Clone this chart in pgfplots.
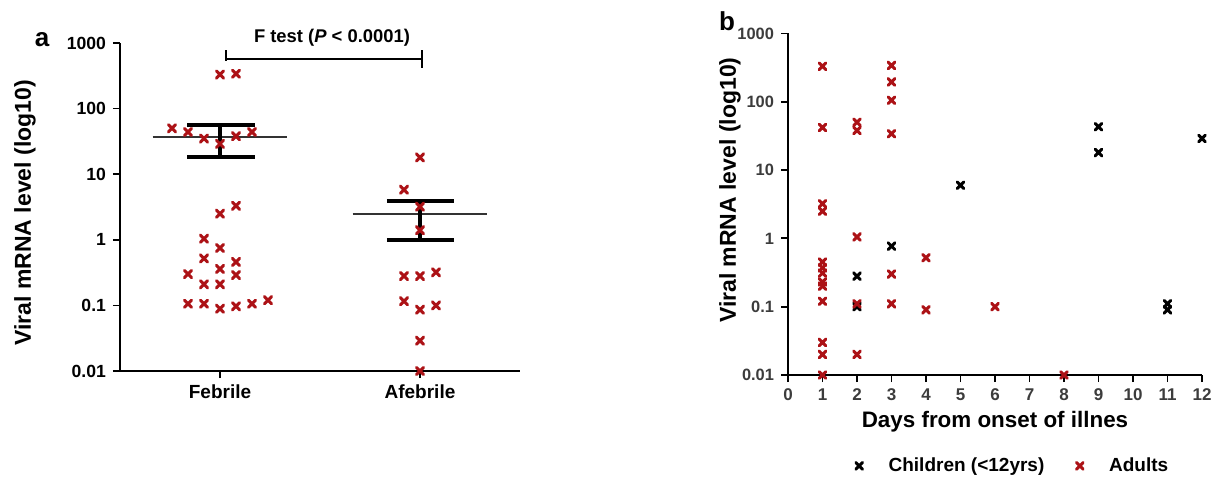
\documentclass[border=0pt]{standalone}
\usepackage{fontspec}
\setmainfont{Liberation Sans}
\usepackage{pgfplots}
\pgfplotsset{compat=1.18}
\definecolor{adultred}{RGB}{172,18,22}
\definecolor{tickgray}{RGB}{60,60,60}

\begin{document}
\begin{tikzpicture}
\useasboundingbox (0,0) rectangle (608.5pt,239.5pt);

\pgfplotsset{
  xmark/.style={only marks, mark=x, mark size=2.6pt,
    mark options={line width=1.5pt, line cap=round}},
}

%% panel a
\begin{axis}[
  at={(60pt,54pt)}, anchor=south west,
  scale only axis, width=200pt, height=164pt,
  ymode=log, ymin=0.01, ymax=1000,
  xmin=0.5, xmax=2.5,
  axis x line*=bottom, axis y line*=left,
  axis line style={line width=1pt},
  xtick={1,2}, xticklabels={Febrile,Afebrile},
  ytick={0.01,0.1,1,10,100,1000},
  yticklabels={0.01,0.1,1,10,100,1000},
  yminorticks=false,
  tick align=outside, major tick length=3.5pt,
  tick style={line width=0.8pt, black},
  yticklabel style={font=\bfseries\fontsize{8.8}{10}\selectfont},
  xticklabel style={font=\bfseries\fontsize{9.5}{11}\selectfont},
  ylabel={Viral mRNA level (log10)},
  ylabel style={at={(axis description cs:-0.2375,0.482)}, anchor=center,
    font=\bfseries\fontsize{11.5}{13}\selectfont},
  clip=false,
]
  % Febrile
  \addplot[xmark, adultred] coordinates {
    (1.00,330) (1.08,340)
    (0.76,50) (0.84,44) (0.92,35) (1.00,29) (1.08,38) (1.16,44)
    (1.00,2.5) (1.08,3.3)
    (0.92,1.04) (1.00,0.75) (0.92,0.52) (1.00,0.36) (1.08,0.46)
    (0.84,0.30) (1.08,0.29) (0.92,0.21) (1.00,0.21)
    (0.84,0.106) (0.92,0.106) (1.00,0.089) (1.08,0.097) (1.16,0.106) (1.24,0.12)
  };
  % Afebrile
  \addplot[xmark, adultred] coordinates {
    (2.00,18) (1.92,5.8) (2.00,3.2) (2.00,1.4)
    (1.92,0.28) (2.00,0.28) (2.08,0.32)
    (1.92,0.116) (2.00,0.086) (2.08,0.1)
    (2.00,0.029) (2.00,0.01)
  };
  % means
  \addplot[black!80, line width=0.8pt] coordinates {(0.663,37) (1.337,37)};
  \addplot[black!80, line width=0.8pt] coordinates {(1.663,2.5) (2.337,2.5)};
  % error bars
  \addplot[black, line width=2pt] coordinates {(0.835,57) (1.176,57)};
  \addplot[black, line width=2pt] coordinates {(0.835,18.4) (1.176,18.4)};
  \addplot[black, line width=2pt] coordinates {(1,18.4) (1,57)};
  \addplot[black, line width=2pt] coordinates {(1.834,3.9) (2.17,3.9)};
  \addplot[black, line width=2pt] coordinates {(1.834,0.98) (2.17,0.98)};
  \addplot[black, line width=2pt] coordinates {(2,0.98) (2,3.9)};
  % F test bracket
  \draw[line width=0.9pt] (axis cs:1.03,782) -- (axis cs:1.03,540);
  \draw[line width=0.9pt] (axis cs:1.03,564) -- (axis cs:2.01,564);
  \draw[line width=0.9pt] (axis cs:2.01,782) -- (axis cs:2.01,415);
  \node[font=\bfseries\fontsize{9.2}{11}\selectfont, anchor=center]
    at (axis cs:1.56,1200) {F test (\textit{P} < 0.0001)};
\end{axis}

%% panel b
\begin{axis}[
  at={(394pt,52pt)}, anchor=south west,
  scale only axis, width=207pt, height=170.8pt,
  ymode=log, ymin=0.01, ymax=1000,
  xmin=0, xmax=12,
  axis x line*=bottom, axis y line*=left,
  axis line style={line width=1.2pt},
  xtick={0,1,...,12},
  ytick={0.01,0.1,1,10,100,1000},
  yticklabels={0.01,0.1,1,10,100,1000},
  yminorticks=false,
  tick align=outside, major tick length=3.5pt,
  tick style={line width=0.9pt, black},
  /pgf/number format/assume math mode=true,
  yticklabel style={font=\bfseries\fontsize{8.2}{9}\selectfont, text=tickgray},
  xticklabel style={font=\bfseries\fontsize{8.5}{9}\selectfont, text=tickgray},
  xlabel={Days from onset of illnes},
  xlabel style={at={(axis description cs:0.5,-0.1375)}, anchor=center,
    font=\bfseries\fontsize{11.2}{13}\selectfont},
  ylabel={Viral mRNA level (log10)},
  ylabel style={at={(axis description cs:-0.14,0.541)}, anchor=center,
    font=\bfseries\fontsize{11.5}{13}\selectfont},
  legend style={at={(axis description cs:0.546,-0.266)}, anchor=center,
    draw=none, legend columns=2,
    font=\bfseries\fontsize{9.5}{11}\selectfont,
    /tikz/every odd column/.append style={column sep=11pt},
    /tikz/every even column/.append style={column sep=14pt}},
  clip=false,
]
  \addplot[xmark, black, mark size=2.4pt] coordinates {
    (2,0.28) (2,0.1) (3,0.77) (5,6) (9,43) (9,18) (11,0.11) (11,0.09) (12,29)
  };
  \addlegendentry{Children (<12yrs)}
  \addplot[xmark, adultred, mark size=2.4pt] coordinates {
    (1,330) (1,42) (1,3.2) (1,2.5) (1,0.45) (1,0.37) (1,0.31) (1,0.23)
    (1,0.2) (1,0.12) (1,0.03) (1,0.02) (1,0.01)
    (2,50) (2,38) (2,1.05) (2,0.11) (2,0.02)
    (3,340) (3,195) (3,105) (3,34) (3,0.3) (3,0.11)
    (4,0.52) (4,0.09) (6,0.1) (8,0.01)
  };
  \addlegendentry{Adults}
\end{axis}

\node[font=\bfseries\fontsize{13}{15}\selectfont] at (21pt,219.5pt) {a};
\node[font=\bfseries\fontsize{13}{15}\selectfont] at (363.5pt,229pt) {b};
\end{tikzpicture}
\end{document}
